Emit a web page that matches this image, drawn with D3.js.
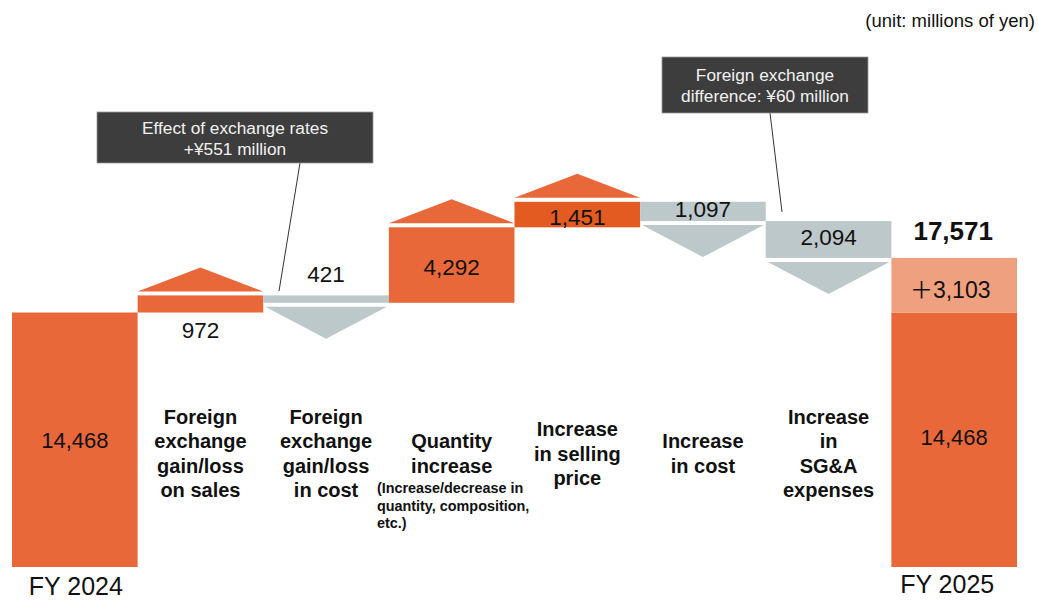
<!DOCTYPE html>
<html>
<head>
<meta charset="utf-8">
<script src="https://cdn.jsdelivr.net/npm/d3@7"></script>
<style>
  html, body { margin: 0; padding: 0; background: #ffffff; }
  svg { display: block; font-family: "Liberation Sans", Arial, sans-serif; }
</style>
</head>
<body>
<svg id="chart" width="1038" height="600"></svg>
<script>
// Operating income bridge, FY 2024 -> FY 2025 (millions of yen)
const categories = [
  "FY 2024",
  "Foreign exchange gain/loss on sales",
  "Foreign exchange gain/loss in cost",
  "Quantity increase",
  "Increase in selling price",
  "Increase in cost",
  "Increase in SG&A expenses",
  "FY 2025"
];
const categoryLines = [
  [],
  ["Foreign", "exchange", "gain/loss", "on sales"],
  ["Foreign", "exchange", "gain/loss", "in cost"],
  ["Quantity", "increase"],
  ["Increase", "in selling", "price"],
  ["Increase", "in cost"],
  ["Increase", "in", "SG&A", "expenses"],
  []
];
const quantityNote = ["(Increase/decrease in", "quantity, composition,", "etc.)"];
const startValue = 14468;                       // FY 2024
const changes = [972, -421, 4292, 1451, -1097, -2094];
const endValue = 17571;                         // FY 2025
const netChange = endValue - startValue;        // 3,103
const unitNote = "(unit: millions of yen)";
const callouts = [
  ["Effect of exchange rates", "+¥551 million"],
  ["Foreign exchange", "difference: ¥60 million"]
];

const svg = d3.select("#chart");
const fmt = d3.format(",");

const x = d3.scaleBand().domain(categories).range([12, 1017]).padding(0);
const y = d3.scaleLinear().domain([0, 20000]).range([567, 215.2]);
const bw = x.bandwidth();

const ORANGE = "#e8683a";
const ORANGE_DARK = "#e45b22";
const ORANGE_LIGHT = "#efa07f";
const GREY = "#bcc8ca";

// running totals for each step
let running = startValue;
const steps = changes.map((v, i) => {
  const from = running;
  running += v;
  return { cat: categories[i + 1], value: v, from, to: running };
});

// base bars
const g = svg.append("g");
g.append("rect")
  .attr("x", x(categories[0])).attr("width", bw)
  .attr("y", y(startValue)).attr("height", y(0) - y(startValue))
  .attr("fill", ORANGE);
g.append("rect")
  .attr("x", x(categories[7])).attr("width", bw)
  .attr("y", y(startValue)).attr("height", y(0) - y(startValue))
  .attr("fill", ORANGE);
g.append("rect")
  .attr("x", x(categories[7])).attr("width", bw)
  .attr("y", y(endValue)).attr("height", y(startValue) - y(endValue))
  .attr("fill", ORANGE_LIGHT);

// step bars with direction arrows
const gap = 4, upH = 24, downH = 32;
steps.forEach((s, i) => {
  const x0 = x(s.cat);
  const top = y(Math.max(s.from, s.to));
  const bot = y(Math.min(s.from, s.to));
  const up = s.value > 0;
  const color = up ? (i === 3 ? ORANGE_DARK : ORANGE) : GREY;
  g.append("rect")
    .attr("x", x0).attr("width", bw)
    .attr("y", top).attr("height", bot - top)
    .attr("fill", color);
  if (up) {
    const b = top - gap;
    g.append("path")
      .attr("d", `M${x0},${b} L${x0 + bw},${b} L${x0 + bw / 2},${b - upH} Z`)
      .attr("fill", ORANGE);
  } else {
    const b = bot + gap;
    g.append("path")
      .attr("d", `M${x0 + 2},${b} L${x0 + bw - 2},${b} L${x0 + bw / 2},${b + downH} Z`)
      .attr("fill", GREY);
  }
});

// value labels
const valueFont = 22.5;
const labelY = [
  s => y(s.from) + 25,        // below bar
  s => y(s.from) - 13,        // above bar
  s => y(s.to) + 48,          // inside
  s => y(s.to) + 23,          // inside
  s => y(s.from) + 15,        // inside, near top
  s => y(s.from) + 24         // inside
];
steps.forEach((s, i) => {
  svg.append("text")
    .attr("x", x(s.cat) + bw / 2)
    .attr("y", labelY[i](s))
    .attr("text-anchor", "middle")
    .attr("font-size", valueFont)
    .attr("fill", "#111")
    .text(fmt(Math.abs(s.value)));
});

const cx0 = x(categories[0]) + bw / 2;
const cx7 = x(categories[7]) + bw / 2;
svg.append("text").attr("x", cx0).attr("y", 448)
  .attr("text-anchor", "middle").attr("font-size", 22).attr("fill", "#111")
  .text(fmt(startValue));
svg.append("text").attr("x", cx7).attr("y", 445)
  .attr("text-anchor", "middle").attr("font-size", 22).attr("fill", "#111")
  .text(fmt(startValue));
const net = svg.append("text").attr("x", cx7 - 4).attr("y", y(endValue) + 40)
  .attr("text-anchor", "middle").attr("font-size", 23).attr("fill", "#111");
net.append("tspan").attr("font-family", "'Noto Sans CJK JP', sans-serif").text("＋");
net.append("tspan").text(fmt(netChange));
svg.append("text").attr("x", cx7 - 1).attr("y", y(endValue) - 18)
  .attr("text-anchor", "middle").attr("font-size", 26).attr("font-weight", "bold").attr("fill", "#111")
  .text(fmt(endValue));

// year labels
svg.append("text").attr("x", cx0 + 1).attr("y", 595)
  .attr("text-anchor", "middle").attr("font-size", 25).attr("fill", "#111")
  .text(categories[0]);
svg.append("text").attr("x", cx7 - 7).attr("y", 593)
  .attr("text-anchor", "middle").attr("font-size", 25).attr("fill", "#111")
  .text(categories[7]);

// category labels, centred vertically around the same line
const lineH = 24.5, midY = 453.5;
categoryLines.forEach((lines, i) => {
  if (!lines.length) return;
  const cx = x(categories[i]) + bw / 2;
  const first = midY - (lines.length - 1) * lineH / 2 + 7;
  const t = svg.append("text")
    .attr("text-anchor", "middle").attr("font-size", 20).attr("font-weight", "bold").attr("fill", "#111");
  lines.forEach((ln, j) => {
    t.append("tspan").attr("x", cx).attr("y", first + j * lineH).text(ln);
  });
});
const note = svg.append("text")
  .attr("font-size", 14.4).attr("font-weight", "bold").attr("fill", "#111");
quantityNote.forEach((ln, j) => {
  note.append("tspan").attr("x", x(categories[3]) - 12).attr("y", 493 + j * 17.5).text(ln);
});

// unit
svg.append("text").attr("x", 1035).attr("y", 27)
  .attr("text-anchor", "end").attr("font-size", 18.5).attr("fill", "#111")
  .text(unitNote);

// callout boxes with leader lines
const boxes = [
  { x: 97, y: 112, w: 276, h: 51, lx1: 300, ly1: 163, lx2: 279, ly2: 291 },
  { x: 662, y: 57, w: 206, h: 56, lx1: 770, ly1: 113, lx2: 782, ly2: 212 }
];
boxes.forEach((b, i) => {
  svg.append("line")
    .attr("x1", b.lx1).attr("y1", b.ly1).attr("x2", b.lx2).attr("y2", b.ly2)
    .attr("stroke", "#333").attr("stroke-width", 1);
  svg.append("rect")
    .attr("x", b.x).attr("y", b.y).attr("width", b.w).attr("height", b.h)
    .attr("fill", "#3d3d3d").attr("stroke", "#9a9a9a").attr("stroke-width", 0.8);
  const t = svg.append("text")
    .attr("text-anchor", "middle").attr("font-size", 17.3).attr("fill", "#f2f2f2");
  callouts[i].forEach((ln, j) => {
    t.append("tspan")
      .attr("x", b.x + b.w / 2)
      .attr("y", b.y + b.h / 2 - 4 + j * 21)
      .text(ln);
  });
});
</script>
</body>
</html>
